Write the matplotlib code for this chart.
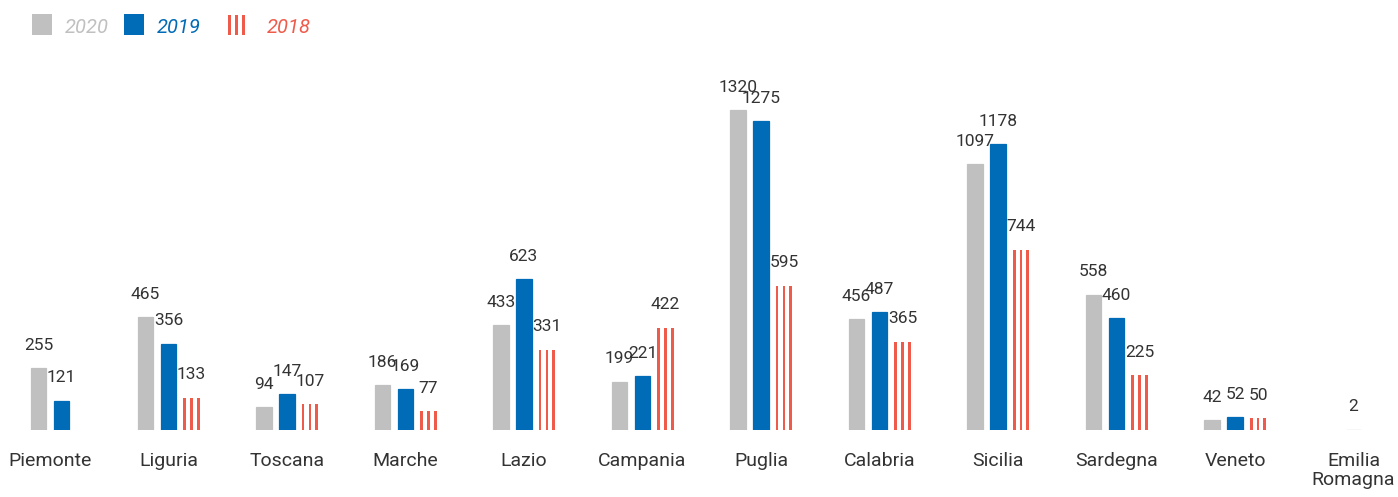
import matplotlib
matplotlib.use("Agg")
import matplotlib.pyplot as plt
from matplotlib.patches import Rectangle
from matplotlib.legend_handler import HandlerBase

regions = ["Piemonte", "Liguria", "Toscana", "Marche", "Lazio", "Campania",
           "Puglia", "Calabria", "Sicilia", "Sardegna", "Veneto", "Emilia\nRomagna"]
v2020 = [255, 465, 94, 186, 433, 199, 1320, 456, 1097, 558, 42, 2]
v2019 = [121, 356, 147, 169, 623, 221, 1275, 487, 1178, 460, 52, None]
v2018 = [None, 133, 107, 77, 331, 422, 595, 365, 744, 225, 50, None]
years = ["2020", "2019", "2018"]

GREY = "#c0c0c0"
BLUE = "#006bb6"
RED = "#ef5b4b"
TXT = "#333333"

plt.rcParams['font.family'] = ['Roboto', 'DejaVu Sans']

fig = plt.figure(figsize=(13.98, 4.97), dpi=100)
ax = fig.add_axes([0, 67 / 497, 1, 430 / 497])

unit_px = 118.5
xmin = -50 / unit_px
ax.set_xlim(xmin, xmin + 1398 / unit_px)
ax.set_ylim(0, 430 / 0.2424)

bw = 15.8 / unit_px
pitch = 23 / unit_px
stripe_w = 2.6 / unit_px
stripe_off = [-6.8 / unit_px, 0, 6.8 / unit_px]

series = [v2020, v2019, v2018]
colors = [GREY, BLUE, RED]

for i in range(len(regions)):
    present = [k for k in range(3) if series[k][i] is not None]
    n = len(present)
    for j, k in enumerate(present):
        xc = i + (j - (n - 1) / 2) * pitch
        val = series[k][i]
        if k < 2:
            ax.bar(xc, val, width=bw, color=colors[k], edgecolor=colors[k], linewidth=0.9)
        else:
            for d in stripe_off:
                ax.bar(xc + d, val, width=stripe_w, color=RED, linewidth=0)
        ax.annotate(str(val), (xc, val), xytext=(0, 11), textcoords="offset points",
                    ha="center", va="bottom", fontsize=12.5, color=TXT)

ax.set_xticks(range(len(regions)))
ax.set_xticklabels(regions, fontsize=14, color=TXT, linespacing=1.05)
ax.tick_params(axis="x", length=0, pad=16)
ax.set_yticks([])
for s in ax.spines.values():
    s.set_visible(False)


class StripeHandler(HandlerBase):
    def create_artists(self, legend, orig_handle, xdescent, ydescent, width, height, fontsize, trans):
        arts = []
        sw = width * 0.18
        for f in (0.0, 0.41, 0.82):
            arts.append(Rectangle((f * width, -ydescent - height * 0.05), sw, height * 1.25,
                                  facecolor=RED, edgecolor="none", transform=trans))
        return arts


class SquareHandler(HandlerBase):
    def create_artists(self, legend, orig_handle, xdescent, ydescent, width, height, fontsize, trans):
        return [Rectangle((0, -ydescent - height * 0.05), width, width,
                          facecolor=orig_handle.get_facecolor(), edgecolor="none", transform=trans)]


h1 = Rectangle((0, 0), 1, 1, facecolor=GREY)
h2 = Rectangle((0, 0), 1, 1, facecolor=BLUE)
h3 = Rectangle((0, 0), 1, 1, facecolor=RED)
leg1 = fig.legend([h1, h2], years[:2], loc="upper left", bbox_to_anchor=(0.0096, 1.0),
                  ncol=2, frameon=False, handlelength=1.0, handleheight=0.8,
                  handletextpad=0.65, columnspacing=0.75,
                  prop={"style": "italic", "size": 14.5},
                  handler_map={h1: SquareHandler(), h2: SquareHandler()})
for t, c in zip(leg1.get_texts(), colors[:2]):
    t.set_color(c)
leg2 = fig.legend([h3], years[2:], loc="upper left", bbox_to_anchor=(0.1498, 1.0),
                  ncol=1, frameon=False, handlelength=0.85, handleheight=0.8,
                  handletextpad=1.1,
                  prop={"style": "italic", "size": 14.5},
                  handler_map={h3: StripeHandler()})
leg2.get_texts()[0].set_color(RED)

fig.savefig("out.png", dpi=100)
